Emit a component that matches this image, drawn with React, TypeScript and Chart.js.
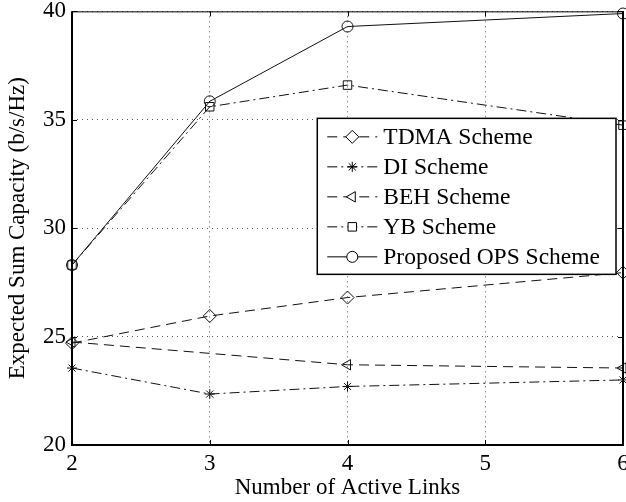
import React, { useEffect, useRef } from 'react';
import { Chart, registerables } from 'chart.js';
import { drawPoint } from 'chart.js/helpers';

Chart.register(...registerables);

const FONT = "'Liberation Serif', 'Times New Roman', serif";

// ---- data ----
const xLinks = [2, 3, 4, 6];
const behLinks = [2, 4, 6];
const tdmaValues = [24.7, 25.95, 26.8, 27.95];
const diValues = [23.55, 22.35, 22.7, 23.0];
const behValues = [24.75, 23.7, 23.55];
const ybValues = [28.3, 35.6, 36.6, 34.75];
const opsValues = [28.3, 35.85, 39.3, 39.9];
const seriesLabels = ['TDMA Scheme', 'DI Scheme', 'BEH Scheme', 'YB Scheme', 'Proposed OPS Scheme'];
const xTickValues = [2, 3, 4, 5, 6];
const yTickValues = [20, 25, 30, 35, 40];
const xAxisTitle = 'Number of Active Links';
const yAxisTitle = 'Expected Sum Capacity (b/s/Hz)';

// ---- styles ----
const seriesStyles = [
  { dash: [10, 6], point: 'rectRot', radius: 6.5, rotation: 0 },
  { dash: [10, 4, 2, 4], point: 'star', radius: 5, rotation: 0 },
  { dash: [10, 6], point: 'triangle', radius: 6, rotation: -90 },
  { dash: [10, 4, 2, 4], point: 'rect', radius: 6, rotation: 0 },
  { dash: [], point: 'circle', radius: 5.5, rotation: 0 },
];

const seriesX = [xLinks, xLinks, behLinks, xLinks, xLinks];
const seriesY = [tdmaValues, diValues, behValues, ybValues, opsValues];

const framePlugin = {
  id: 'frame',
  afterDatasetsDraw(chart: any) {
    const { ctx, chartArea } = chart;
    const { left, right, top, bottom } = chartArea;
    const xs = chart.scales.x;
    const ys = chart.scales.y;
    ctx.save();
    ctx.setLineDash([]);
    ctx.strokeStyle = '#000';
    ctx.lineWidth = 1;
    ctx.beginPath();
    xs.ticks.forEach((t: any) => {
      const px = Math.round(xs.getPixelForValue(t.value)) + 0.5;
      ctx.moveTo(px, bottom);
      ctx.lineTo(px, bottom - 5);
      ctx.moveTo(px, top);
      ctx.lineTo(px, top + 5);
    });
    ys.ticks.forEach((t: any) => {
      const py = Math.round(ys.getPixelForValue(t.value)) + 0.5;
      ctx.moveTo(left, py);
      ctx.lineTo(left + 5, py);
      ctx.moveTo(right, py);
      ctx.lineTo(right - 5, py);
    });
    ctx.stroke();
    ctx.lineWidth = 2;
    ctx.beginPath();
    ctx.moveTo(left, top);
    ctx.lineTo(left, bottom);
    ctx.lineTo(right, bottom);
    ctx.lineTo(right, top);
    ctx.stroke();
    ctx.lineWidth = 1;
    ctx.beginPath();
    ctx.moveTo(left, top + 0.5);
    ctx.lineTo(right, top + 0.5);
    ctx.stroke();
    ctx.restore();
  },
};

const legendPlugin = {
  id: 'innerLegend',
  afterDraw(chart: any) {
    const { ctx, chartArea } = chart;
    const fontSize = 23.5;
    ctx.save();
    ctx.font = `${fontSize}px ${FONT}`;
    const datasets = chart.data.datasets;
    let maxW = 0;
    datasets.forEach((d: any) => {
      maxW = Math.max(maxW, ctx.measureText(d.label).width);
    });
    const width = 66 + maxW + 16;
    const rowH = 30;
    const height = 18.5 + rowH * (datasets.length - 1) + 17.5;
    const right = chartArea.right - 7;
    const leftX = right - width;
    const topY = chartArea.top + 107;
    ctx.fillStyle = '#fff';
    ctx.fillRect(leftX, topY, width, height);
    ctx.strokeStyle = '#000';
    ctx.lineWidth = 1.5;
    ctx.setLineDash([]);
    ctx.strokeRect(leftX, topY, width, height);
    datasets.forEach((d: any, i: number) => {
      const cy = topY + 18.5 + i * rowH;
      const st = seriesStyles[i];
      ctx.save();
      ctx.strokeStyle = '#000';
      ctx.lineWidth = 1;
      ctx.setLineDash(st.dash);
      ctx.beginPath();
      ctx.moveTo(leftX + 10, cy);
      ctx.lineTo(leftX + 60, cy);
      ctx.stroke();
      ctx.restore();
      ctx.save();
      ctx.strokeStyle = '#000';
      ctx.fillStyle = 'rgba(255,255,255,1)';
      ctx.lineWidth = 1;
      drawPoint(ctx, { pointStyle: st.point as any, radius: st.radius, rotation: st.rotation, borderWidth: 1 }, leftX + 35, cy);
      ctx.restore();
      ctx.fillStyle = '#000';
      ctx.textBaseline = 'middle';
      ctx.textAlign = 'left';
      ctx.fillText(d.label, leftX + 66, cy + 1);
    });
    ctx.restore();
  },
};

export default function App() {
  const ref = useRef<HTMLCanvasElement>(null);

  useEffect(() => {
    const datasets = seriesLabels.map((label, i) => ({
      label,
      data: seriesX[i].map((x, j) => ({ x, y: seriesY[i][j] })),
      borderColor: '#111',
      borderWidth: 1,
      borderDash: seriesStyles[i].dash,
      pointStyle: seriesStyles[i].point,
      pointRadius: seriesStyles[i].radius,
      pointRotation: seriesStyles[i].rotation,
      pointBorderColor: '#111',
      pointBorderWidth: 1,
      pointBackgroundColor: 'rgba(0,0,0,0)',
      fill: false,
      tension: 0,
      clip: false as any,
    }));

    const tickFont = { family: FONT, size: 23, lineHeight: 0.9 };
    const xTickFont = { family: FONT, size: 23, lineHeight: 1.2 };
    const titleFont = { family: FONT, size: 23, lineHeight: 1.2 };

    const chart = new Chart(ref.current as HTMLCanvasElement, {
      type: 'line',
      data: { datasets: datasets as any },
      options: {
        animation: false,
        responsive: true,
        maintainAspectRatio: false,
        layout: { padding: { top: 6, right: 17, left: 0, bottom: 0 } },
        plugins: { legend: { display: false }, tooltip: { enabled: false } },
        scales: {
          x: {
            type: 'linear',
            min: xTickValues[0],
            max: xTickValues[xTickValues.length - 1],
            afterBuildTicks: (s: any) => {
              s.ticks = xTickValues.map((v) => ({ value: v }));
            },
            afterFit: (s: any) => {
              s.height = 57;
            },
            ticks: { font: xTickFont, color: '#000', padding: 5, maxRotation: 0, autoSkip: false },
            grid: { color: '#555', lineWidth: 1, drawTicks: false },
            border: { display: false, dash: [1, 4] },
            title: { display: true, text: xAxisTitle, font: titleFont, color: '#000', padding: { top: 0, bottom: 0 } },
          },
          y: {
            type: 'linear',
            min: yTickValues[0],
            max: yTickValues[yTickValues.length - 1],
            afterBuildTicks: (s: any) => {
              s.ticks = yTickValues.map((v) => ({ value: v }));
            },
            afterFit: (s: any) => {
              s.width = 72;
            },
            ticks: { font: tickFont, color: '#000', padding: 6, autoSkip: false },
            grid: { color: '#555', lineWidth: 1, drawTicks: false },
            border: { display: false, dash: [1, 4] },
            title: { display: true, text: yAxisTitle, font: titleFont, color: '#000', padding: { top: 4, bottom: 0 } },
          },
        },
      },
      plugins: [framePlugin, legendPlugin],
    });
    return () => chart.destroy();
  }, []);

  return (
    <div style={{ position: 'fixed', left: 0, top: -5, width: 640, height: 507, background: '#fff' }}>
      <canvas ref={ref} />
    </div>
  );
}
